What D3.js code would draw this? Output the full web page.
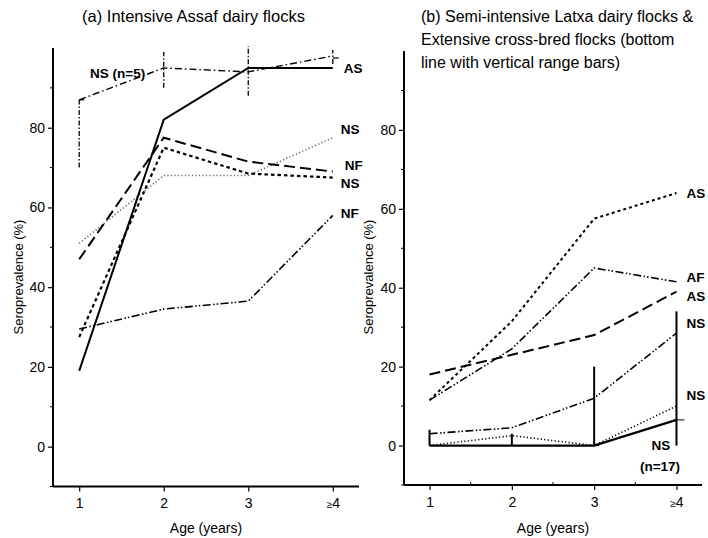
<!DOCTYPE html>
<html><head><meta charset="utf-8">
<script src="https://cdn.jsdelivr.net/npm/d3@7"></script>
<style>body{margin:0;background:#fff}svg{display:block}text{font-family:Arial,"Liberation Sans",sans-serif;fill:#000}</style>
</head><body><svg id="c" width="708" height="538"></svg>
<script>
// ---------- data ----------
const ageLabels = ["1", "2", "3", "≥4"];
const ageValues = [1, 2, 3, 4];
const yTicks = [0, 20, 40, 60, 80];
const yMinorTicks = [-10, 10, 30, 50, 70, 90];

// Panel (a) Intensive Assaf dairy flocks
const aAS = [19, 82, 95, 95];
const aNSn5 = [87, 95, 94, 98];
const aNSn5Low = [70, 90, 88, 96];
const aNSn5High = [87, 99, 100.5, 99.5];
const aNFlong = [47, 77.5, 71.5, 69];
const aNSshort = [27.5, 75, 68.5, 67.5];
const aNSdotted = [51, 68, 68, 77.5];
const aNFdashdot = [29.5, 34.5, 36.5, 58];

// Panel (b) Semi-intensive Latxa / Extensive cross-bred
const bASshort = [11.5, 31.5, 57.5, 64];
const bAFdashdot = [11.5, 24.5, 45, 41.5];
const bASlong = [18, 23, 28, 39];
const bNSdashdot = [3, 4.5, 12, 28.5];
const bNSdotted = [0, 2.5, 0, 10];
const bNSsolid = [0, 0, 0, 6.5];
const bNSsolidLow = [0, 0, 0, 0];
const bNSsolidHigh = [4, 3, 20, 34];

// ---------- drawing ----------
const svg = d3.select("#c");

function panel(cfg) {
  const x = d3.scaleLinear().domain([0.69, 4.31]).range([cfg.x0, cfg.x1]);
  const y = d3.scaleLinear().domain([-10, 100]).range([cfg.y0, cfg.y1]);
  const g = svg.append("g");
  // y axis
  const ya = g.append("g").attr("transform", `translate(${cfg.x0},0)`)
    .call(d3.axisLeft(y).tickValues(yTicks).tickSize(5).tickPadding(3).tickFormat(d3.format("d")));
  ya.select(".domain").remove();
  ya.selectAll("line").attr("stroke-width", 1.2);
  ya.selectAll("text").attr("font-size", 14);
  g.append("g").selectAll("line").data(yMinorTicks).join("line")
    .attr("x1", cfg.x0 - 3).attr("x2", cfg.x0).attr("y1", d => y(d)).attr("y2", d => y(d))
    .attr("stroke", "#000").attr("stroke-width", 1);
  // x axis
  const xa = g.append("g").attr("transform", `translate(0,${cfg.y0})`)
    .call(d3.axisBottom(x).tickValues(ageValues).tickSize(5).tickPadding(7).tickFormat((d, i) => ageLabels[i]));
  xa.select(".domain").remove();
  xa.selectAll("line").attr("stroke-width", 1.2);
  xa.selectAll("text").attr("font-size", 14);
  xa.selectAll("text").filter((d, i) => ageLabels[i].startsWith("≥")).each(function () {
    const t = d3.select(this); t.text("");
    t.append("tspan").attr("font-size", 10).text("≥");
    t.append("tspan").text("4");
  });
  if (cfg.xMinor) {
    g.append("g").selectAll("line").data([1.5, 2.5, 3.5]).join("line")
      .attr("x1", d => x(d)).attr("x2", d => x(d)).attr("y1", cfg.y0 - 3).attr("y2", cfg.y0)
      .attr("stroke", "#000").attr("stroke-width", 1);
  }
  // axis lines
  g.append("line").attr("x1", cfg.x0).attr("x2", cfg.x0).attr("y1", cfg.y1).attr("y2", cfg.y0)
    .attr("stroke", "#000").attr("stroke-width", 2);
  g.append("line").attr("x1", cfg.x0).attr("x2", cfg.x1).attr("y1", cfg.y0).attr("y2", cfg.y0)
    .attr("stroke", "#000").attr("stroke-width", 2);
  // axis titles
  g.append("text").attr("x", (cfg.x0 + cfg.x1) / 2).attr("y", 533).attr("text-anchor", "middle")
    .attr("font-size", 14).text("Age (years)");
  g.append("text").attr("transform", `translate(${cfg.ylx},277) rotate(-90)`).attr("text-anchor", "middle")
    .attr("dominant-baseline", "central").attr("font-size", 13).text("Seroprevalence (%)");
  return { x, y, g };
}

function series(p, vals, style) {
  const line = d3.line().x((d, i) => p.x(ageValues[i])).y(d => p.y(d));
  p.g.append("path").datum(vals).attr("d", line).attr("fill", "none")
    .attr("stroke", style.color || "#000").attr("stroke-width", style.w)
    .attr("stroke-dasharray", style.dash || null).attr("stroke-linecap", "butt");
}
function ranges(p, lo, hi, style) {
  p.g.append("g").selectAll("line").data(ageValues).join("line")
    .attr("x1", d => p.x(d)).attr("x2", d => p.x(d))
    .attr("y1", (d, i) => p.y(lo[i])).attr("y2", (d, i) => p.y(hi[i]))
    .attr("stroke", "#000").attr("stroke-width", style.w).attr("stroke-dasharray", style.dash || null);
}
function label(p, txt, px, py, anchor) {
  p.g.append("text").attr("x", px).attr("y", py).attr("font-size", 13.5).attr("font-weight", "bold")
    .attr("text-anchor", anchor || "start").attr("dominant-baseline", "central").text(txt);
}

// Panel (a)
const A = panel({ x0: 53, x1: 359, y0: 486.5, y1: 48, ylx: 18 });
const dashDot = "7,3,1.5,3";
const dashDotDot = "8,2.5,1.5,2,1.5,2.5";
ranges(A, aNSn5Low, aNSn5High, { w: 1.3, dash: "5,2,1.5,2" });
series(A, aNSn5, { w: 1.4, dash: dashDot });
series(A, aNSdotted, { w: 1.6, dash: "1.2,2.3", color: "#666" });
series(A, aNFdashdot, { w: 1.6, dash: dashDotDot });
series(A, aNFlong, { w: 2, dash: "11,5" });
series(A, aNSshort, { w: 2.2, dash: "3.5,3" });
series(A, aAS, { w: 2 });
// small caps on the n=5 range bars
A.g.append("line").attr("x1", A.x(1)).attr("x2", A.x(1) + 5).attr("y1", A.y(aNSn5[0])).attr("y2", A.y(aNSn5[0])).attr("stroke", "#000").attr("stroke-width", 1.2);
A.g.append("line").attr("x1", A.x(4)).attr("x2", A.x(4) + 6).attr("y1", A.y(97.5)).attr("y2", A.y(97.5)).attr("stroke", "#000").attr("stroke-width", 1.2);
label(A, "NS (n=5)", 90, 73);
const ax = A.x(4) + 11;
label(A, "AS", ax, A.y(aAS[3]) + 1);
label(A, "NS", ax - 3, A.y(aNSdotted[3] + 2));
label(A, "NF", ax + 1, A.y(aNFlong[3] + 1.5));
label(A, "NS", ax - 3, A.y(aNSshort[3] - 1.5));
label(A, "NF", ax - 3, A.y(aNFdashdot[3] + 0.5));

// Panel (b)
const B = panel({ x0: 404, x1: 702, y0: 485, y1: 51, ylx: 368, xMinor: true });
series(B, bASshort, { w: 2, dash: "3,3" });
series(B, bAFdashdot, { w: 1.6, dash: dashDotDot });
series(B, bASlong, { w: 2, dash: "11,5" });
series(B, bNSdashdot, { w: 1.6, dash: dashDotDot });
series(B, bNSdotted, { w: 1.6, dash: "1.2,2.3" });
ranges(B, bNSsolidLow, bNSsolidHigh, { w: 2 });
series(B, bNSsolid, { w: 2.2 });
B.g.append("line").attr("x1", B.x(4)).attr("x2", B.x(4) + 8).attr("y1", B.y(bNSsolid[3])).attr("y2", B.y(bNSsolid[3])).attr("stroke", "#000").attr("stroke-width", 1);
B.g.append("line").attr("x1", B.x(3)).attr("x2", B.x(3) + 5).attr("y1", B.y(0)).attr("y2", B.y(0)).attr("stroke", "#000").attr("stroke-width", 1);
const bx = B.x(4) + 10;
label(B, "AS", bx, B.y(bASshort[3]));
label(B, "AF", bx, B.y(bAFdashdot[3] + 1.2));
label(B, "AS", bx, B.y(bASlong[3] - 1.2));
label(B, "NS", bx, B.y(31));
label(B, "NS", bx, B.y(12.7));
label(B, "NS", 661, B.y(0), "middle");
label(B, "(n=17)", 660, 466, "middle");

// Titles
svg.append("text").attr("x", 193.5).attr("y", 22).attr("text-anchor", "middle").attr("font-size", 16.5)
  .text("(a) Intensive Assaf dairy flocks");
const tb = ["(b) Semi-intensive Latxa dairy flocks &", "Extensive cross-bred flocks (bottom", "line with vertical range bars)"];
svg.append("g").selectAll("text").data(tb).join("text").attr("x", 421).attr("y", (d, i) => 22 + i * 23)
  .attr("font-size", 16).text(d => d);
</script></body></html>
